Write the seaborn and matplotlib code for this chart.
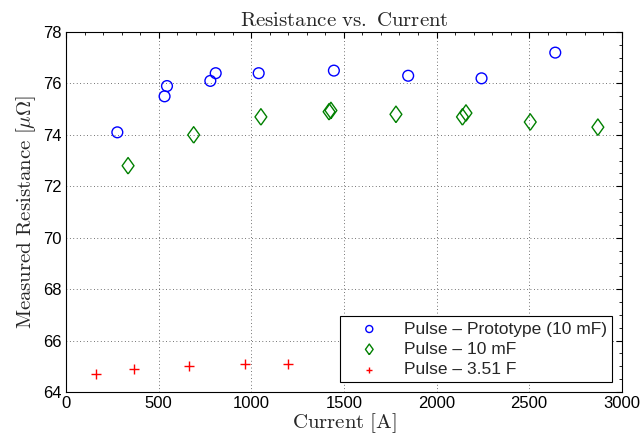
import numpy as np
import pandas as pd
import seaborn as sns
import matplotlib
matplotlib.use("Agg")
import matplotlib.pyplot as plt
from matplotlib.ticker import MultipleLocator

# Measured data: current [A] vs. resistance [uOhm]
proto_current = [277, 532, 545, 779, 808, 1040, 1446, 1847, 2243, 2641]
proto_resist = [74.1, 75.5, 75.9, 76.1, 76.4, 76.4, 76.5, 76.3, 76.2, 77.2]

mf10_current = [335, 689, 1052, 1420, 1430, 1781, 2140, 2159, 2506, 2871]
mf10_resist = [72.8, 74.0, 74.7, 74.9, 74.95, 74.8, 74.7, 74.85, 74.5, 74.3]

f351_current = [162, 369, 666, 966, 1196]
f351_resist = [64.7, 64.9, 65.0, 65.1, 65.1]

labels = ["Pulse \u2013 Prototype (10 mF)", "Pulse \u2013 10 mF", "Pulse \u2013 3.51 F"]

sns.set_theme(style="white")
plt.rcParams["font.family"] = ["Liberation Sans", "DejaVu Sans"]
plt.rcParams["mathtext.fontset"] = "cm"

fig = plt.figure(figsize=(6.41, 4.45), dpi=100)
ax = fig.add_axes([0.103, 0.119, 0.867, 0.809])

# MATLAB-style diamond: a bit wider than matplotlib's thin diamond
diamond = [(0, -1), (0.72, 0), (0, 1), (-0.72, 0), (0, -1)]

sns.scatterplot(x=proto_current, y=proto_resist, ax=ax, marker="o", s=60,
                color="blue", facecolors="none", edgecolor="blue",
                linewidth=1.0, label=labels[0], zorder=3)
sns.scatterplot(x=mf10_current, y=mf10_resist, ax=ax, marker=diamond, s=140,
                color="green", facecolors="none", edgecolor="green",
                linewidth=1.0, label=labels[1], zorder=3)
sns.scatterplot(x=f351_current, y=f351_resist, ax=ax, marker="+", s=55,
                color="red", linewidth=1.0, label=labels[2], zorder=3)

ax.set_xlim(0, 3000)
ax.set_ylim(64, 78)
ax.xaxis.set_major_locator(MultipleLocator(500))
ax.yaxis.set_major_locator(MultipleLocator(2))
ax.xaxis.set_minor_locator(MultipleLocator(100))
ax.yaxis.set_minor_locator(MultipleLocator(0.5))

ax.grid(True, which="major", color="#222222", linestyle=(0, (1, 3.5)), linewidth=0.55)
ax.tick_params(which="both", direction="in", top=True, right=True,
               labelsize=12, colors="black", pad=3)
ax.tick_params(which="major", length=4, width=0.8)
ax.tick_params(which="minor", length=2, width=0.6)
for sp in ax.spines.values():
    sp.set_color("black")
    sp.set_linewidth(0.8)

ax.set_title(r"$\mathrm{Resistance\ vs.\ Current}$", fontsize=15, pad=4)
ax.set_xlabel(r"$\mathrm{Current\ [A]}$", fontsize=15, labelpad=0)
ax.set_ylabel(r"$\mathrm{Measured\ Resistance\ [}\mu\Omega\mathrm{]}$", fontsize=15, labelpad=4)

leg = ax.legend(loc="lower right", fontsize=12.5, frameon=True, fancybox=False,
                edgecolor="black", framealpha=1, borderpad=0.3,
                labelspacing=0.3, handletextpad=0.6, handlelength=2.8,
                markerscale=0.65, borderaxespad=0.55)
leg.get_frame().set_linewidth(0.8)

fig.savefig("out.png", dpi=100)
